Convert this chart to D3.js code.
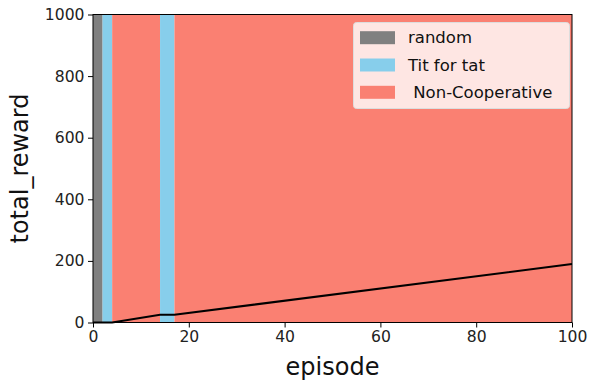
<!DOCTYPE html>
<html>
<head>
<meta charset="utf-8">
<script src="https://cdn.jsdelivr.net/npm/d3@7"></script>
<style>
  body { margin: 0; background: #fff; }
  svg { display: block; font-family: "DejaVu Sans", sans-serif; }
</style>
</head>
<body>
<div id="chart"></div>
<script>
// Bandas de fondo: estrategia del oponente por episodio
const bandStart = [0, 2, 4, 14, 17];
const bandEnd = [2, 4, 14, 17, 100];
const bandStrategy = ["random", "Tit for tat", "Non-Cooperative", "Tit for tat", "Non-Cooperative"];

// Leyenda
const legendLabels = ["random", "Tit for tat", " Non-Cooperative"];
const legendKeys = ["random", "Tit for tat", "Non-Cooperative"];

// Recompensa acumulada
const lineEpisode = [0, 4, 14, 17, 100];
const lineReward = [0, 0, 25, 25, 190];

const xTicks = [0, 20, 40, 60, 80, 100];
const yTicks = [0, 200, 400, 600, 800, 1000];

const colors = {
  "random": "#808080",
  "Tit for tat": "#87CEEB",
  "Non-Cooperative": "#FA8072"
};

const W = 589, H = 383;
const margin = { top: 14.5, right: 17, bottom: 60.5, left: 93 };
const width = W - margin.left - margin.right;
const height = H - margin.top - margin.bottom;

const svg = d3.select("#chart").append("svg")
  .attr("width", W)
  .attr("height", H);

const g = svg.append("g")
  .attr("transform", `translate(${margin.left},${margin.top})`);

const x = d3.scaleLinear().domain([0, 100]).range([0, width]);
const y = d3.scaleLinear().domain([0, 1000]).range([height, 0]);

// Bandas
const bands = bandStart.map((s, i) => ({ s, e: bandEnd[i], k: bandStrategy[i] }));
g.selectAll("rect.band")
  .data(bands)
  .enter()
  .append("rect")
  .attr("class", "band")
  .attr("x", d => x(d.s))
  .attr("width", d => x(d.e) - x(d.s))
  .attr("y", 0)
  .attr("height", height)
  .attr("fill", d => colors[d.k]);

// Línea
const pts = lineEpisode.map((e, i) => [e, lineReward[i]]);
g.append("path")
  .datum(pts)
  .attr("fill", "none")
  .attr("stroke", "black")
  .attr("stroke-width", 2)
  .attr("d", d3.line().x(d => x(d[0])).y(d => y(d[1])));

// Ejes
const xAxis = g.append("g")
  .attr("transform", `translate(0,${height})`)
  .call(d3.axisBottom(x).tickValues(xTicks).tickFormat(d3.format("d")).tickSize(5).tickPadding(3.5));
const yAxis = g.append("g")
  .call(d3.axisLeft(y).tickValues(yTicks).tickFormat(d3.format("d")).tickSize(5).tickPadding(3.5));

[xAxis, yAxis].forEach(a => {
  a.select(".domain").remove();
  a.selectAll("line").attr("stroke", "#000").attr("stroke-width", 1);
  a.selectAll("text")
    .attr("font-family", "DejaVu Sans")
    .attr("font-size", "15.6px")
    .attr("fill", "#222");
});

// Marco
g.append("rect")
  .attr("x", 0).attr("y", 0)
  .attr("width", width).attr("height", height)
  .attr("fill", "none")
  .attr("stroke", "#000")
  .attr("stroke-width", 1);

// Etiquetas de ejes
svg.append("text")
  .attr("x", margin.left + width / 2)
  .attr("y", 375)
  .attr("text-anchor", "middle")
  .attr("font-size", "24px")
  .attr("fill", "#111")
  .text("episode");

svg.append("text")
  .attr("transform", `translate(28,${margin.top + height / 2}) rotate(-90)`)
  .attr("text-anchor", "middle")
  .attr("font-size", "24px")
  .attr("fill", "#111")
  .text("total_reward");

// Leyenda
const leg = svg.append("g");
leg.append("rect")
  .attr("x", 353.5).attr("y", 22.5)
  .attr("width", 216).attr("height", 86)
  .attr("rx", 3)
  .attr("fill", "white")
  .attr("fill-opacity", 0.8)
  .attr("stroke", "#ddd")
  .attr("stroke-width", 1);

legendLabels.forEach((lab, i) => {
  const cy = 37.7 + i * 27.3;
  leg.append("rect")
    .attr("x", 360).attr("y", cy - 6.5)
    .attr("width", 35).attr("height", 13)
    .attr("fill", colors[legendKeys[i]]);
  leg.append("text")
    .attr("x", 408).attr("y", cy + 5.5)
    .attr("font-size", "16.5px")
    .attr("fill", "#111")
    .attr("xml:space", "preserve")
    .style("white-space", "pre")
    .text(lab);
});
</script>
</body>
</html>
